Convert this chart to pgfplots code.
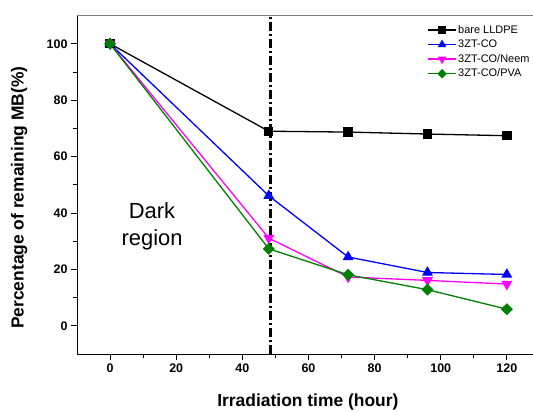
\documentclass[border=0pt]{standalone}
\usepackage{pgfplots}
\pgfplotsset{compat=1.18}
\usepackage{fontspec}
\setmainfont{Liberation Sans}
\definecolor{cgreen}{RGB}{0,128,0}
\definecolor{cmag}{RGB}{255,0,255}
\definecolor{cblue}{RGB}{0,0,255}
\definecolor{cgray}{RGB}{128,128,128}
\begin{document}
\begin{tikzpicture}
\begin{axis}[
  at={(0,0)}, anchor=south west,
  scale only axis, width=456.3bp, height=338.4bp,
  xmin=-10, xmax=128, ymin=-10, ymax=110,
  axis x line*=bottom, axis y line*=left,
  axis line style={black, line width=0.8bp, -},
  xtick={0,20,...,120}, ytick={0,20,...,100},
  minor x tick num=1, minor y tick num=1,
  tick align=outside, major tick length=6bp, minor tick length=4bp,
  every tick/.style={black, line width=0.8bp},
  /pgf/number format/assume math mode=true,
  tick label style={font=\fontsize{12.5}{14}\selectfont\bfseries},
  xlabel={Irradiation time (hour)},
  ylabel={Percentage of remaining MB(\%)},
  label style={font=\fontsize{17.5}{20}\selectfont\bfseries},
  xlabel style={at={(axis description cs:0.506,-0.142)}, anchor=center},
  ylabel style={at={(axis description cs:-0.127,0.462)}, anchor=center},
  legend cell align=left,
  legend style={at={(rel axis cs:0.761,0.982)}, anchor=north west, draw=none, fill=none,
    font=\fontsize{11}{12}\selectfont, row sep=2.2bp,
    nodes={inner sep=1.5bp}},
  legend image code/.code={\draw[mark repeat=2,mark phase=2,#1,every mark/.append style={scale=0.75}] plot coordinates {(0bp,0bp)(14bp,0bp)(28bp,0bp)};},
]
\addplot[black, line width=1.3bp, mark=square*, mark size=4bp] coordinates {
  (0,100) (48,69.0) (72,68.7) (96,68.0) (120,67.4)};
\addlegendentry{bare LLDPE}
\addplot[cblue, line width=1.3bp, mark=triangle*, mark size=5bp] coordinates {
  (0,100) (48,46.1) (72,24.4) (96,18.9) (120,18.2)};
\addlegendentry{3ZT-CO}
\addplot[cmag, line width=1.3bp, mark=triangle*, mark size=5bp, mark options={rotate=180}] coordinates {
  (0,100) (48,31.1) (72,17.3) (96,16.1) (120,14.8)};
\addlegendentry{3ZT-CO/Neem}
\addplot[cgreen, line width=1.3bp, mark=square*, mark size=3.6bp, mark options={rotate=45}] coordinates {
  (0,100) (48,27.3) (72,18.1) (96,12.8) (120,5.9)};
\addlegendentry{3ZT-CO/PVA}
\addplot[black, line width=2.5bp, dash pattern=on 9bp off 3bp on 2bp off 3bp, forget plot] coordinates {
  (48.5,-10) (48.5,110)};
\draw[cgray, line width=1bp] (rel axis cs:0,1) -- (rel axis cs:1,1);
\node[font=\fontsize{22}{27}\selectfont, align=center] at (axis cs:12.7,35.3) {Dark\\region};
\end{axis}
\pgfresetboundingbox
\useasboundingbox (-77bp,-58bp) rectangle (456bp,354bp);
\end{tikzpicture}
\end{document}
